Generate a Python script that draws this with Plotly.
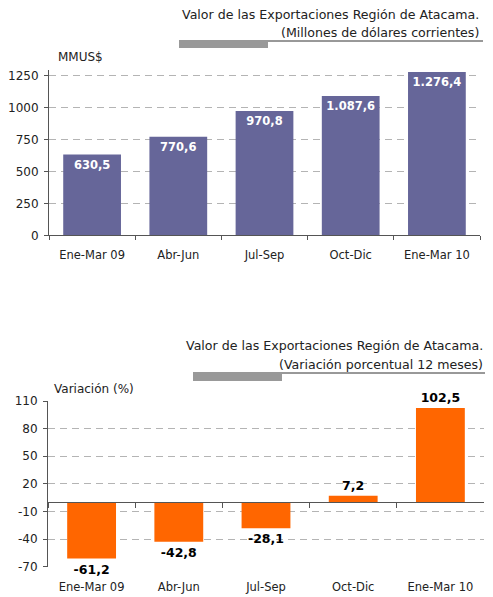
import plotly.graph_objects as go

# The page body has an 8px margin, so the figure is offset by 8px.
OFF = 8
W, H = 493 - OFF, 597 - OFF

categories = ["Ene-Mar 09", "Abr-Jun", "Jul-Sep", "Oct-Dic", "Ene-Mar 10"]
export_values = [630.5, 770.6, 970.8, 1087.6, 1276.4]
variation_values = [-61.2, -42.8, -28.1, 7.2, 102.5]
top_yticks = [0, 250, 500, 750, 1000, 1250]
bottom_yticks = [-70, -40, -10, 20, 50, 80, 110]
bottom_yticktext = ["-70", "-40", "-10", "20", "50", "80", "110"]


def fmt(v):
    s = f"{v:,.1f}"
    return s.replace(",", "X").replace(".", ",").replace("X", ".")


def fx(p):
    return (p - OFF) / W


def fy(p):
    return 1 - (p - OFF) / H


FONT = "DejaVu Sans"
GRID = "#b4b4b4"
AXIS = "#555555"
TXT = "#222222"

# pixel geometry (page pixels)
top_zero, top_top = 235.3, 70.2
top_max = (top_zero - top_top) * 250 / 32
bot_top, bot_bottom = 401.0, 566.7
bot_zero = bot_top + 110 * (bot_bottom - bot_top) / 180

fig = go.Figure()

fig.add_trace(go.Bar(
    x=categories, y=export_values, width=0.67,
    marker=dict(color="#666699", line=dict(width=0)),
    text=[fmt(v) for v in export_values],
    textposition="inside", insidetextanchor="end",
    textfont=dict(family=FONT, size=11.5, color="white", weight="bold"),
    xaxis="x", yaxis="y", showlegend=False,
))

fig.add_trace(go.Bar(
    x=categories, y=variation_values, width=0.56,
    marker=dict(color="#FF6600", line=dict(width=0)),
    text=[fmt(v) for v in variation_values],
    textposition="outside", cliponaxis=False,
    textfont=dict(family=FONT, size=12.5, color="black", weight="bold"),
    xaxis="x2", yaxis="y2", showlegend=False,
))

fig.update_layout(
    width=W, height=H,
    margin=dict(l=0, r=0, t=0, b=0),
    paper_bgcolor="white", plot_bgcolor="white",
    font=dict(family=FONT, size=11, color=TXT),
    xaxis=dict(
        domain=[fx(49), fx(480)], anchor="y", automargin=False,
        type="category", categoryarray=categories,
        showline=True, linecolor=AXIS, linewidth=1,
        ticks="outside", tickson="boundaries", ticklen=4, tickcolor=AXIS,
        showgrid=False, ticklabelstandoff=9,
        tickfont=dict(size=11.5, color=TXT),
    ),
    yaxis=dict(
        domain=[fy(top_zero), fy(top_top)], anchor="x", automargin=False,
        range=[0, top_max], tickvals=top_yticks,
        showline=True, linecolor=AXIS, linewidth=1,
        ticks="outside", ticklen=4, tickcolor=AXIS,
        showgrid=True, gridcolor=GRID, griddash="7px,5px", gridwidth=1,
        zeroline=False, ticklabelstandoff=3,
        tickfont=dict(size=12, color=TXT),
    ),
    xaxis2=dict(
        domain=[fx(48), fx(484)], anchor="free", position=fy(bot_zero),
        automargin=False,
        type="category", categoryarray=categories,
        showline=True, linecolor=AXIS, linewidth=1,
        ticks="outside", tickson="boundaries", ticklen=5, tickcolor=AXIS,
        showgrid=False, ticklabelstandoff=74,
        tickfont=dict(size=11.5, color=TXT),
    ),
    yaxis2=dict(
        domain=[fy(bot_bottom), fy(bot_top)], anchor="x2", automargin=False,
        range=[-70, 110], tickvals=bottom_yticks, ticktext=bottom_yticktext,
        showline=True, linecolor=AXIS, linewidth=1,
        ticks="outside", ticklen=4, tickcolor=AXIS,
        showgrid=True, gridcolor=GRID, griddash="7px,5px", gridwidth=1,
        zeroline=False, ticklabelstandoff=3,
        tickfont=dict(size=12, color=TXT),
    ),
)

annotations = [
    dict(text="Valor de las Exportaciones Región de Atacama.", x=fx(481), y=fy(14.5)),
    dict(text="(Millones de dólares corrientes)", x=fx(481), y=fy(32.5)),
    dict(text="Valor de las Exportaciones Región de Atacama.", x=fx(485), y=fy(345.5)),
    dict(text="(Variación porcentual 12 meses)", x=fx(485), y=fy(364.5)),
]
for a in annotations:
    fig.add_annotation(xref="paper", yref="paper", xanchor="right", yanchor="middle",
                       showarrow=False, font=dict(size=12.6, color=TXT), **a)

fig.add_annotation(text="MMUS$", xref="paper", yref="paper", x=fx(56), y=fy(56.5),
                   xanchor="left", yanchor="middle", showarrow=False,
                   font=dict(size=12, color=TXT))
fig.add_annotation(text="Variación (%)", xref="paper", yref="paper", x=fx(52), y=fy(389.5),
                   xanchor="left", yanchor="middle", showarrow=False,
                   font=dict(size=12, color=TXT))

# decorative title underlines
for x0, x1, yl, yb in [(179, 483, 41, 48), (193, 486, 373, 381)]:
    fig.add_shape(type="line", xref="paper", yref="paper",
                  x0=fx(x0), x1=fx(x1), y0=fy(yl), y1=fy(yl),
                  line=dict(color="#333333", width=1))
    fig.add_shape(type="rect", xref="paper", yref="paper",
                  x0=fx(x0), x1=fx(x0 + 89), y0=fy(yb), y1=fy(yl),
                  fillcolor="#999999", line=dict(width=0))

fig.write_html("out.html")
